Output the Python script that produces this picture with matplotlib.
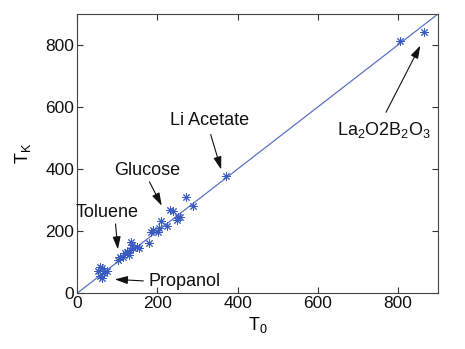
import matplotlib
matplotlib.use('Agg')
import matplotlib.pyplot as plt
import numpy as np

plt.rcParams['font.family'] = ['Liberation Sans', 'DejaVu Sans']
plt.rcParams['mathtext.default'] = 'regular'

# measured points (T0, TK)
t0 = [52, 56, 61, 61, 67, 74, 58, 103, 107, 115, 120, 124, 128, 132, 134, 136, 140,
      149, 153, 180, 183, 190, 202, 205, 209, 223, 232, 238, 248, 252, 256, 271,
      290, 371, 804, 864]
tk = [70, 55, 80, 48, 64, 72, 84, 106, 117, 117, 129, 133, 123, 139, 166, 155, 144,
      149, 144, 162, 198, 203, 198, 209, 233, 216, 268, 265, 235, 246, 246, 309,
      281, 377, 814, 843]

line_x = [0, 900]

# annotations: label, text position, arrow tip
labels = ['Li Acetate', 'Glucose', 'Toluene', 'Propanol', r'La$_2$O2B$_2$O$_3$']
text_xy = [(331, 558), (174, 397), (75, 261), (177, 39), (765, 526)]
tip_xy = [(361, 390), (214, 274), (102, 132), (87, 45), (859, 806)]
start_xy = [(331, 520), (177, 367), (95, 232), (172, 39), (767, 575)]

fig = plt.figure(figsize=(4.65, 3.49), dpi=100)
ax = fig.add_axes([0.166, 0.160, 0.776, 0.800])

ax.plot(line_x, line_x, color='#5b72c4', lw=0.9)
ax.plot(t0, tk, linestyle='none', marker=(8, 2, 0), ms=6, mew=0.7,
        color='#3a5cc0')

for lab, txy, tip, st in zip(labels, text_xy, tip_xy, start_xy):
    ha = 'left' if lab == 'Propanol' else 'center'
    ax.text(txy[0], txy[1], lab, ha=ha, va='center', fontsize=13, color='#111111')
    ax.annotate('', xy=tip, xytext=st,
                arrowprops=dict(arrowstyle='-|>,head_length=0.7,head_width=0.22',
                                color='#111111', lw=0.8, mutation_scale=11))

ax.set_xlim(0, 900)
ax.set_ylim(0, 900)
ax.set_xticks([0, 200, 400, 600, 800])
ax.set_yticks([0, 200, 400, 600, 800])
ax.tick_params(direction='in', top=True, right=True, labelsize=12.5, length=4,
               colors='#333333', labelcolor='#111111', pad=2)
for s in ax.spines.values():
    s.set_color('#444444')
    s.set_linewidth(0.8)
ax.set_xlabel('T$_0$', fontsize=13, labelpad=3)
ax.set_ylabel('T$_K$', fontsize=13, labelpad=9)

fig.savefig('out.png', dpi=100)
